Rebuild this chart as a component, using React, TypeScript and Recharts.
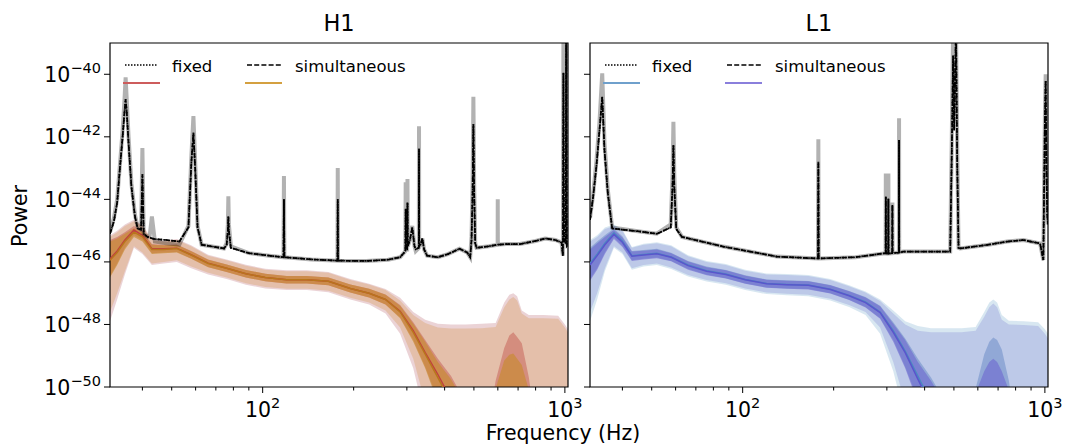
import React from "react";
import { Area, ComposedChart, Line, ReferenceArea, XAxis, YAxis } from "recharts";

const FONT = "DejaVu Sans, sans-serif";

// log10(power) values

// black PSD curves: [frequency Hz, median, upper edge of the grey band]
const h1Psd: [number, number, number][] = [
  [31.25, -45.1, -45.05], [32.2, -44.7, -44.6], [33.0, -44.1, -44.0], [33.7, -43.0, -42.9],
  [34.4, -42.0, -41.8], [34.9, -41.2, -40.8], [35.2, -40.8, -40.1], [35.5, -41.2, -40.8],
  [36.0, -42.2, -42.0], [36.8, -43.6, -43.5], [37.8, -44.55, -44.5], [38.6, -44.93, -44.9],
  [39.6, -44.97, -44.97], [40.0, -43.2, -42.36], [40.4, -45.1, -45.1], [41.6, -45.2, -45.2],
  [42.3, -45.22, -45.15], [43.0, -45.25, -44.55], [44.0, -45.27, -45.35], [48, -45.3, -45.4],
  [53, -45.35, -45.45], [56.8, -44.9, -44.85], [58.1, -42.8, -42.6], [59.0, -41.87, -41.34],
  [59.8, -43.0, -42.8], [60.9, -44.9, -44.85], [62.8, -45.45, -45.45], [74.5, -45.57, -45.57],
  [76.0, -45.45, -45.4], [76.7, -45.0, -44.8], [77.0, -44.55, -43.9], [77.3, -45.0, -44.8],
  [78.5, -45.55, -45.5], [90, -45.72, -45.72], [105, -45.8, -45.8], [117.2, -45.85, -45.85],
  [117.6, -44.0, -43.25], [118.0, -45.85, -45.85], [145, -45.92, -45.92], [176.8, -45.96, -45.96],
  [177.2, -44.0, -43.0], [177.6, -45.96, -45.96], [220, -45.97, -45.97], [260, -45.93, -45.93],
  [285, -45.85, -45.85], [294, -45.7, -45.7], [296.6, -45.65, -45.65], [297.3, -44.3, -43.45],
  [298.0, -45.6, -45.6], [300.7, -45.6, -45.6], [301.4, -44.1, -43.35], [302.1, -45.5, -45.5],
  [307, -45.3, -45.3], [312.6, -44.9, -44.85], [318, -45.5, -45.5], [321, -45.6, -45.65],
  [328.6, -45.55, -45.55], [329.1, -42.38, -41.66], [329.6, -45.5, -45.5], [333, -45.45, -45.45],
  [337.6, -45.25, -45.25], [342, -45.6, -45.6], [350, -45.8, -45.8], [380, -45.85, -45.85],
  [410, -45.75, -45.75], [448, -45.58, -45.58], [475, -45.7, -45.7], [486, -45.85, -45.85],
  [491, -45.3, -45.2], [495, -43.8, -43.5], [498, -41.6, -40.72], [501, -43.8, -43.5],
  [505, -45.4, -45.4], [510, -45.55, -45.55], [560, -45.5, -45.5], [599.1, -45.45, -45.45],
  [599.6, -45.45, -44.0], [600.1, -45.45, -45.45], [640, -45.43, -45.43], [710, -45.43, -45.43],
  [800, -45.33, -45.33], [860, -45.25, -45.25], [930, -45.3, -45.3], [975, -45.38, -45.38],
  [985, -45.8, -45.8], [989, -39.95, -38.5], [993, -45.3, -45.2], [1006, -45.4, -45.3],
  [1010, -38.5, -38.5], [1014, -45.5, -45.4], [1024, -45.45, -45.45],
];

const l1Psd: [number, number, number][] = [
  [31.25, -44.66, -44.6], [32.0, -43.92, -43.85], [32.8, -42.96, -42.8], [33.6, -41.78, -41.5],
  [34.3, -40.72, -39.97], [34.9, -42.42, -42.2], [35.8, -43.8, -43.7], [37.0, -44.93, -44.9],
  [45, -45.02, -45.02], [52, -45.1, -45.1], [57.8, -44.9, -44.8], [58.6, -43.6, -43.2],
  [59.0, -42.26, -41.52], [59.4, -43.6, -43.2], [60.3, -44.95, -44.9], [63, -45.2, -45.2],
  [86.3, -45.51, -45.51], [129.7, -45.83, -45.83], [177.5, -45.89, -45.89], [178.0, -42.8, -42.08],
  [178.5, -45.89, -45.89], [236, -45.85, -45.85], [292, -45.73, -45.73], [297.2, -45.73, -45.73],
  [297.6, -43.92, -43.17], [298.0, -45.73, -45.73], [303.1, -45.73, -45.73], [303.5, -43.98, -43.17],
  [303.9, -45.73, -45.73], [312.5, -45.72, -45.72], [312.9, -44.18, -44.1], [313.3, -45.72, -45.72],
  [328.8, -45.7, -45.7], [329.2, -42.1, -41.41], [329.6, -45.7, -45.7], [340, -45.67, -45.67],
  [486, -45.67, -45.67], [492, -42.5, -42.0], [497, -39.4, -38.5], [501, -41.8, -40.5],
  [508, -38.5, -38.5], [513, -43.0, -42.5], [518, -45.55, -45.55], [524, -45.57, -45.57],
  [650, -45.45, -45.45], [750, -45.35, -45.35], [849, -45.3, -45.3], [964, -45.41, -45.41],
  [988, -45.94, -45.94], [1000, -41.5, -41.4], [1006, -40.2, -40.0], [1012, -43.0, -42.8],
  [1018, -44.5, -44.4], [1024, -44.8, -44.8],
];

// noise posterior bands share one frequency grid
const noiseFreq = [
  31.25, 33, 35, 37.5, 40, 43, 47, 52, 58, 66, 76, 88, 102, 120, 140, 165, 195, 225, 255, 285,
  315, 345, 380, 420, 470, 530, 590, 630, 655, 675, 695, 720, 760, 850, 950, 1000, 1024,
];

// H1, simultaneous
const h1SimMed = [
  -45.95, -45.7, -45.35, -45.05, -45.2, -45.6, -45.6, -45.57, -45.78, -46.05,
  -46.2, -46.38, -46.5, -46.57, -46.57, -46.62, -46.85, -47.0, -47.2, -47.6,
  -48.25, -48.95, -49.7, -50.5, -51.5, -52.5, -53, -53, -53, -53,
  -53, -53, -53, -53, -53, -53, -53,
];
const h1SimInLo = [
  -46.5, -46.1, -45.6, -45.2, -45.35, -45.75, -45.72, -45.7, -45.9, -46.17,
  -46.32, -46.5, -46.62, -46.69, -46.69, -46.75, -46.98, -47.14, -47.36, -47.8,
  -48.55, -49.4, -50.5, -51.5, -52.5, -53, -53, -53, -53, -53,
  -53, -53, -53, -53, -53, -53, -53,
];
const h1SimInHi = [
  -45.35, -45.25, -45.1, -44.92, -45.05, -45.45, -45.47, -45.45, -45.66, -45.93,
  -46.08, -46.26, -46.38, -46.45, -46.45, -46.5, -46.72, -46.86, -47.05, -47.4,
  -47.98, -48.55, -49.2, -49.75, -50.6, -52.5, -50.05, -49.15, -48.97, -48.93,
  -49.1, -49.3, -50.1, -53, -53, -53, -53,
];
const h1SimOutLo = [
  -47.6, -47.0, -46.3, -45.5, -45.7, -46.05, -46.0, -45.95, -46.15, -46.35,
  -46.5, -46.68, -46.8, -46.86, -46.86, -46.92, -47.15, -47.3, -47.55, -48.1,
  -49.1, -50.5, -52, -52, -52, -52, -52, -52, -52, -52,
  -52, -52, -52, -52, -52, -52, -52,
];
const h1SimOutHi = [
  -45.2, -45.05, -44.85, -44.7, -44.85, -45.3, -45.35, -45.3, -45.5, -45.8,
  -45.95, -46.12, -46.25, -46.3, -46.3, -46.35, -46.58, -46.72, -46.9, -47.23,
  -47.7, -47.95, -48.1, -48.13, -48.13, -48.12, -48.08, -47.45, -47.2, -47.12,
  -47.23, -47.65, -47.8, -47.8, -47.82, -48.1, -48.25,
];

// H1, fixed
const h1FixMed = [
  -45.9, -45.65, -45.3, -44.98, -45.15, -45.58, -45.58, -45.56, -45.77, -46.04,
  -46.2, -46.38, -46.5, -46.57, -46.57, -46.62, -46.85, -47.0, -47.2, -47.58,
  -48.2, -48.9, -49.6, -50.4, -51.4, -52.5, -53, -53, -53, -53,
  -53, -53, -53, -53, -53, -53, -53,
];
const h1FixInLo = [
  -46.45, -46.05, -45.55, -45.15, -45.3, -45.72, -45.7, -45.68, -45.89, -46.16,
  -46.32, -46.5, -46.62, -46.69, -46.69, -46.75, -46.98, -47.14, -47.36, -47.78,
  -48.5, -49.35, -50.4, -51.4, -52.4, -53, -53, -53, -53, -53,
  -53, -53, -53, -53, -53, -53, -53,
];
const h1FixInHi = [
  -45.3, -45.2, -45.05, -44.85, -45.0, -45.43, -45.46, -45.44, -45.65, -45.92,
  -46.08, -46.26, -46.38, -46.45, -46.45, -46.5, -46.72, -46.86, -47.04, -47.38,
  -47.93, -48.5, -49.1, -49.65, -50.5, -52.5, -49.8, -48.75, -48.35, -48.25,
  -48.4, -48.6, -49.7, -53, -53, -53, -53,
];
const h1FixOutLo = [
  -47.9, -47.2, -46.4, -45.55, -45.75, -46.1, -46.05, -46.0, -46.2, -46.4,
  -46.55, -46.73, -46.85, -46.9, -46.9, -46.97, -47.2, -47.36, -47.65, -48.3,
  -49.4, -51, -52, -52, -52, -52, -52, -52, -52, -52,
  -52, -52, -52, -52, -52, -52, -52,
];
const h1FixOutHi = [
  -45.15, -45.0, -44.8, -44.65, -44.82, -45.27, -45.32, -45.27, -45.47, -45.77,
  -45.92, -46.09, -46.22, -46.27, -46.27, -46.32, -46.55, -46.7, -46.87, -47.15,
  -47.6, -47.85, -47.98, -48.0, -48.0, -47.98, -47.95, -47.3, -47.05, -47.0,
  -47.1, -47.55, -47.7, -47.7, -47.72, -48.0, -48.15,
];

// L1, simultaneous
const l1SimMed = [
  -46.1, -45.8, -45.45, -45.12, -45.37, -45.82, -45.78, -45.74, -45.85, -46.12,
  -46.3, -46.4, -46.57, -46.7, -46.73, -46.75, -46.88, -47.08, -47.3, -47.62,
  -48.25, -48.9, -49.75, -50.6, -51.6, -52.5, -53, -53, -53, -53,
  -53, -53, -53, -53, -53, -53, -53,
];
const l1SimInLo = [
  -46.6, -46.25, -45.75, -45.27, -45.52, -45.97, -45.92, -45.88, -45.98, -46.25,
  -46.43, -46.53, -46.7, -46.83, -46.86, -46.88, -47.01, -47.22, -47.46, -47.82,
  -48.55, -49.4, -50.5, -51.5, -52.5, -53, -53, -53, -53, -53,
  -53, -53, -53, -53, -53, -53, -53,
];
const l1SimInHi = [
  -45.6, -45.4, -45.2, -44.98, -45.22, -45.67, -45.64, -45.6, -45.72, -45.99,
  -46.17, -46.27, -46.44, -46.57, -46.6, -46.62, -46.75, -46.94, -47.14, -47.42,
  -47.98, -48.5, -49.2, -49.8, -50.6, -52.5, -50.2, -49.5, -49.2, -49.1,
  -49.2, -49.5, -50.1, -53, -53, -53, -53,
];
const l1SimOutLo = [
  -47.6, -47.0, -46.2, -45.5, -45.7, -46.2, -46.1, -46.05, -46.18, -46.42,
  -46.58, -46.68, -46.85, -46.98, -47.02, -47.05, -47.18, -47.38, -47.6, -48.1,
  -49.2, -50.5, -52, -52, -52, -52, -52, -52, -52, -52,
  -52, -52, -52, -52, -52, -52, -52,
];
const l1SimOutHi = [
  -45.35, -45.2, -44.95, -44.85, -45.0, -45.55, -45.45, -45.4, -45.5, -45.82,
  -46.0, -46.1, -46.28, -46.4, -46.42, -46.45, -46.58, -46.78, -46.98, -47.25,
  -47.65, -48.0, -48.2, -48.25, -48.25, -48.25, -48.2, -47.75, -47.45, -47.33,
  -47.45, -47.85, -48.0, -48.02, -48.05, -48.3, -48.45,
];

// L1, fixed
const l1FixMed = [
  -46.05, -45.75, -45.4, -45.07, -45.33, -45.8, -45.76, -45.72, -45.84, -46.1,
  -46.28, -46.39, -46.56, -46.69, -46.72, -46.74, -46.87, -47.07, -47.28, -47.6,
  -48.2, -48.85, -49.65, -50.5, -51.5, -52.5, -53, -53, -53, -53,
  -53, -53, -53, -53, -53, -53, -53,
];
const l1FixInLo = [
  -46.55, -46.2, -45.7, -45.22, -45.48, -45.95, -45.9, -45.86, -45.97, -46.23,
  -46.41, -46.52, -46.69, -46.82, -46.85, -46.87, -47.0, -47.21, -47.44, -47.8,
  -48.5, -49.35, -50.4, -51.4, -52.4, -53, -53, -53, -53, -53,
  -53, -53, -53, -53, -53, -53, -53,
];
const l1FixInHi = [
  -45.55, -45.35, -45.15, -44.93, -45.18, -45.65, -45.62, -45.58, -45.71, -45.97,
  -46.15, -46.26, -46.43, -46.56, -46.59, -46.61, -46.74, -46.93, -47.12, -47.4,
  -47.93, -48.45, -49.1, -49.7, -50.5, -52.5, -50.05, -48.95, -48.55, -48.42,
  -48.5, -48.8, -49.8, -53, -53, -53, -53,
];
const l1FixOutLo = [
  -47.9, -47.2, -46.3, -45.55, -45.75, -46.25, -46.15, -46.1, -46.23, -46.47,
  -46.63, -46.73, -46.9, -47.03, -47.07, -47.1, -47.23, -47.44, -47.7, -48.3,
  -49.5, -51, -52, -52, -52, -52, -52, -52, -52, -52,
  -52, -52, -52, -52, -52, -52, -52,
];
const l1FixOutHi = [
  -45.3, -45.15, -44.9, -44.8, -44.96, -45.52, -45.42, -45.37, -45.47, -45.79,
  -45.97, -46.07, -46.25, -46.37, -46.39, -46.42, -46.55, -46.75, -46.95, -47.2,
  -47.55, -47.9, -48.05, -48.12, -48.12, -48.12, -48.08, -47.6, -47.3, -47.2,
  -47.3, -47.7, -47.88, -47.9, -47.93, -48.15, -48.3,
];

const xTicks = [40, 50, 60, 70, 80, 90, 100, 200, 300, 400, 500, 600, 700, 800, 900, 1000];
const yTicks = [-50, -48, -46, -44, -42, -40];
const legendLabels = ["fixed", "simultaneous"];

const bandData = (lo: number[], hi: number[]) =>
  noiseFreq.map((f, i) => ({ f, band: [lo[i], hi[i]] }));
const lineData = (vals: number[]) => noiseFreq.map((f, i) => ({ f, v: vals[i] }));
const psdData = (rows: [number, number, number][], col: number) =>
  rows.map((r) => ({ f: r[0], v: r[col] }));

const detectors = [
  {
    name: "H1",
    psd: h1Psd,
    fix: { med: h1FixMed, inLo: h1FixInLo, inHi: h1FixInHi, outLo: h1FixOutLo, outHi: h1FixOutHi },
    sim: { med: h1SimMed, inLo: h1SimInLo, inHi: h1SimInHi, outLo: h1SimOutLo, outHi: h1SimOutHi },
    colors: {
      fixOut: ["#b8606a", 0.28], simOut: ["#d89a5a", 0.35],
      fixIn: ["#c0504a", 0.45], simIn: ["#c88a30", 0.65],
      fixMed: "#c04040", simMed: "#b8761c",
      fixLegend: "#cd5c5c", simLegend: "#d4a040",
    },
  },
  {
    name: "L1",
    psd: l1Psd,
    fix: { med: l1FixMed, inLo: l1FixInLo, inHi: l1FixInHi, outLo: l1FixOutLo, outHi: l1FixOutHi },
    sim: { med: l1SimMed, inLo: l1SimInLo, inHi: l1SimInHi, outLo: l1SimOutLo, outHi: l1SimOutHi },
    colors: {
      fixOut: ["#7fb0d0", 0.3], simOut: ["#6a70d0", 0.25],
      fixIn: ["#5a80c0", 0.45], simIn: ["#6a60d0", 0.55],
      fixMed: "#4a8ac0", simMed: "#5a55cc",
      fixLegend: "#6fa0cc", simLegend: "#8a7fdc",
    },
  },
];

function XTick(props: any) {
  const { x, y, payload } = props;
  const major = payload.value === 100 || payload.value === 1000;
  return (
    <g>
      <line x1={x} x2={x} y1={y} y2={y + (major ? 6 : 3.5)} stroke="#000" strokeWidth={1} />
      {major && (
        <text x={x} y={y + 30} textAnchor="middle" fontSize={20.5} fontFamily={FONT} fill="#000">
          <tspan>10</tspan>
          <tspan dy={-9.5} fontSize={14.5}>{Math.round(Math.log10(payload.value))}</tspan>
        </text>
      )}
    </g>
  );
}

function YTick(props: any) {
  const { x, y, payload, showLabel } = props;
  return (
    <g>
      <line x1={x - 6} x2={x} y1={y} y2={y} stroke="#000" strokeWidth={1} />
      {showLabel && (
        <text x={x - 9} y={y + 7.5} textAnchor="end" fontSize={20.5} fontFamily={FONT} fill="#000">
          <tspan>10</tspan>
          <tspan dy={-9} fontSize={14.5}>{"\u2212" + Math.abs(payload.value)}</tspan>
        </text>
      )}
    </g>
  );
}

function Panel({ det, left, width, yAxisWidth, marginRight, showYLabels }: any) {
  const c = det.colors;
  const bands = [
    { key: "fixOut", data: bandData(det.fix.outLo, det.fix.outHi), col: c.fixOut },
    { key: "simOut", data: bandData(det.sim.outLo, det.sim.outHi), col: c.simOut },
    { key: "fixIn", data: bandData(det.fix.inLo, det.fix.inHi), col: c.fixIn },
    { key: "simIn", data: bandData(det.sim.inLo, det.sim.inHi), col: c.simIn },
  ];
  return (
    <div style={{ position: "absolute", left, top: 0 }}>
      <ComposedChart width={width} height={444} margin={{ top: 43, right: marginRight, bottom: 27, left: 0 }}>
        <XAxis
          dataKey="f"
          type="number"
          scale="log"
          domain={[31.25, 1024]}
          allowDataOverflow
          ticks={xTicks}
          interval={0}
          tick={<XTick />}
          tickLine={false}
          axisLine={false}
          tickSize={0}
          tickMargin={0}
          height={30}
        />
        <YAxis
          type="number"
          domain={[-50, -39]}
          allowDataOverflow
          ticks={yTicks}
          interval={0}
          tick={(p: any) => <YTick {...p} showLabel={showYLabels} />}
          tickLine={false}
          axisLine={false}
          tickSize={0}
          tickMargin={0}
          width={yAxisWidth}
        />
        {bands.map((b) => (
          <Area
            key={b.key}
            data={b.data}
            dataKey="band"
            type="linear"
            stroke="none"
            fill={b.col[0]}
            fillOpacity={b.col[1]}
            isAnimationActive={false}
          />
        ))}
        <Line data={lineData(det.fix.med)} dataKey="v" type="linear" stroke={c.fixMed} strokeWidth={1.5} dot={false} isAnimationActive={false} />
        <Line data={lineData(det.sim.med)} dataKey="v" type="linear" stroke={c.simMed} strokeWidth={1.5} dot={false} isAnimationActive={false} />
        <Line data={psdData(det.psd, 2)} dataKey="v" type="linear" stroke="#000" strokeOpacity={0.3} strokeWidth={4} dot={false} isAnimationActive={false} />
        <Line data={psdData(det.psd, 1)} dataKey="v" type="linear" stroke="#000" strokeWidth={1.7} strokeDasharray="1.5 1.2" dot={false} isAnimationActive={false} />
        <Line data={psdData(det.psd, 1)} dataKey="v" type="linear" stroke="#000" strokeWidth={1.7} strokeDasharray="5 2" dot={false} isAnimationActive={false} />
        <ReferenceArea x1={31.25} x2={1024} y1={-50} y2={-39} fill="none" stroke="#000" strokeWidth={1.2} ifOverflow="visible" />
      </ComposedChart>
    </div>
  );
}

function LegendBlock({ x, c }: { x: number; c: any }) {
  return (
    <g fontFamily={FONT} fontSize={16.5} fill="#000">
      <line x1={x + 15} x2={x + 48} y1={65} y2={65} stroke="#000" strokeWidth={1.5} strokeDasharray="1.5 1.5" />
      <text x={x + 62} y={72}>{legendLabels[0]}</text>
      <line x1={x + 13} x2={x + 50} y1={83} y2={83} stroke={c.fixLegend} strokeWidth={2.2} />
      <line x1={x + 137} x2={x + 172} y1={65} y2={65} stroke="#000" strokeWidth={1.5} strokeDasharray="5 2.2" />
      <text x={x + 185} y={72}>{legendLabels[1]}</text>
      <line x1={x + 135} x2={x + 172} y1={83} y2={83} stroke={c.simLegend} strokeWidth={2.2} />
    </g>
  );
}

export default function App() {
  return (
    <div style={{ position: "absolute", left: 0, top: 0, width: 1067, height: 444, background: "#fff", fontFamily: FONT }}>
      <Panel det={detectors[0]} left={0} width={590} yAxisWidth={110} marginRight={22} showYLabels />
      <Panel det={detectors[1]} left={580} width={487} yAxisWidth={10} marginRight={19} showYLabels={false} />
      <svg width={1067} height={444} style={{ position: "absolute", left: 0, top: 0, pointerEvents: "none" }}>
        <text x={339} y={31} textAnchor="middle" fontFamily={FONT} fontSize={22.5}>{detectors[0].name}</text>
        <text x={819} y={31} textAnchor="middle" fontFamily={FONT} fontSize={22.5}>{detectors[1].name}</text>
        <LegendBlock x={110} c={detectors[0].colors} />
        <LegendBlock x={590} c={detectors[1].colors} />
        <text x={563} y={440} textAnchor="middle" fontFamily={FONT} fontSize={20.5}>Frequency (Hz)</text>
        <text x={0} y={0} transform="translate(27,216) rotate(-90)" textAnchor="middle" fontFamily={FONT} fontSize={20.5}>Power</text>
      </svg>
    </div>
  );
}
